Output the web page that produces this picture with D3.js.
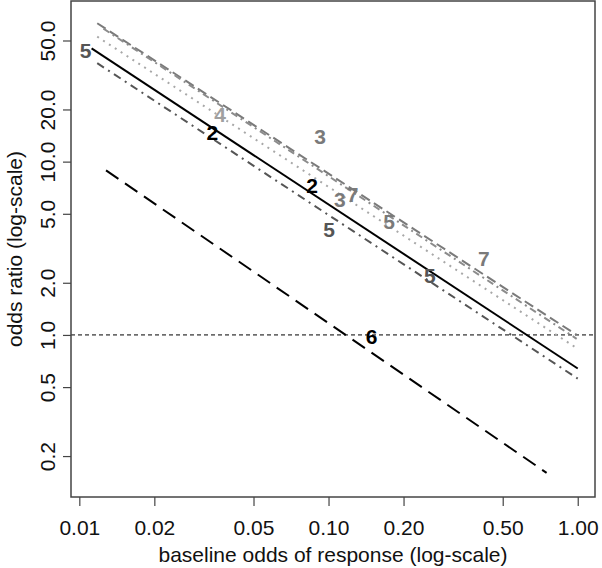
<!DOCTYPE html>
<html>
<head>
<meta charset="utf-8">
<script src="https://cdn.jsdelivr.net/npm/d3@7"></script>
<style>
  body { margin: 0; background: #fff; }
  text { font-family: "Liberation Sans", Arial, sans-serif; }
</style>
</head>
<body>
<svg id="chart" width="602" height="568"></svg>
<script>
// axis ticks
const xTicks = [0.01, 0.02, 0.05, 0.1, 0.2, 0.5, 1];
const xTickLabels = ['0.01', '0.02', '0.05', '0.10', '0.20', '0.50', '1.00'];
const yTicks = [0.2, 0.5, 1, 2, 5, 10, 20, 50];
const yTickLabels = ['0.2', '0.5', '1.0', '2.0', '5.0', '10.0', '20.0', '50.0'];

// lines: [baseline odds, odds ratio] at both ends
const line7 = [[0.0118, 62.9], [0.99, 1.0]];
const line3 = [[0.0125, 58.5], [0.99, 0.95]];
const line4 = [[0.0118, 52.6], [0.99, 0.84]];
const line2 = [[0.0112, 45.0], [1.0, 0.64]];
const line5 = [[0.0118, 37.0], [1.0, 0.56]];
const line6 = [[0.0128, 8.9], [0.75, 0.16]];

// number labels written on the plot
const labelText = ['5', '2', '4', '3', '2', '3', '7', '5', '5', '5', '7', '6'];
const labelX = [0.0106, 0.0342, 0.0367, 0.0925, 0.0859, 0.111, 0.125, 0.1005, 0.175, 0.255, 0.42, 0.149];
const labelY = [44.1, 14.7, 18.8, 13.9, 7.24, 6.09, 6.43, 4.04, 4.49, 2.19, 2.75, 0.974];
const labelColor = ['#555', '#000', '#a0a0a0', '#7a7a7a', '#000', '#7a7a7a', '#7a7a7a', '#555', '#7a7a7a', '#555', '#7a7a7a', '#000'];

const svg = d3.select('#chart');
const mLeft = 71, mRight = 595, mTop = 1, mBottom = 497;
const fontSize = 21;

const x = d3.scaleLog().domain([0.00926, 1.173]).range([mLeft, mRight]);
const y = d3.scaleLog().domain([0.1161, 84.5]).range([mBottom, mTop]);

// reference line at OR = 1
svg.append('line')
  .attr('x1', mLeft).attr('x2', mRight)
  .attr('y1', y(1)).attr('y2', y(1))
  .attr('stroke', '#000').attr('stroke-width', 1)
  .attr('stroke-dasharray', '4 3');

const series = [
  { pts: line7, color: '#7a7a7a', dash: '10 5' },
  { pts: line3, color: '#8c8c8c', dash: '7 4 2 4' },
  { pts: line4, color: '#a8a8a8', dash: '2 5' },
  { pts: line2, color: '#000', dash: null },
  { pts: line5, color: '#555', dash: '8 5 2 5' },
  { pts: line6, color: '#000', dash: '15 8' },
];

const lineGen = d3.line().x((d) => x(d[0])).y((d) => y(d[1]));

svg.append('g')
  .selectAll('path')
  .data(series)
  .enter()
  .append('path')
  .attr('d', (d) => lineGen(d.pts))
  .attr('fill', 'none')
  .attr('stroke', (d) => d.color)
  .attr('stroke-width', 2)
  .attr('stroke-dasharray', (d) => d.dash);

// labels
svg.append('g')
  .selectAll('text')
  .data(labelText)
  .enter()
  .append('text')
  .attr('x', (d, i) => x(labelX[i]))
  .attr('y', (d, i) => y(labelY[i]))
  .attr('dy', '0.36em')
  .attr('text-anchor', 'middle')
  .attr('font-size', fontSize)
  .attr('font-weight', 'bold')
  .attr('fill', (d, i) => labelColor[i])
  .text((d) => d);

// box
svg.append('rect')
  .attr('x', mLeft).attr('y', mTop)
  .attr('width', mRight - mLeft).attr('height', mBottom - mTop)
  .attr('fill', 'none')
  .attr('stroke', '#444')
  .attr('stroke-width', 1.5);

// axes
const xAxis = d3.axisBottom(x)
  .tickValues(xTicks)
  .tickFormat((d, i) => xTickLabels[i])
  .tickSize(9);
const gx = svg.append('g').attr('transform', `translate(0,${mBottom})`).call(xAxis);
gx.select('.domain').remove();
gx.selectAll('.tick text').attr('y', 38).attr('dy', 0);

const yAxis = d3.axisLeft(y)
  .tickValues(yTicks)
  .tickFormat((d, i) => yTickLabels[i])
  .tickSize(8);
const gy = svg.append('g').attr('transform', `translate(${mLeft},0)`).call(yAxis);
gy.select('.domain').remove();
gy.selectAll('.tick text')
  .attr('transform', 'rotate(-90)')
  .attr('x', 0)
  .attr('y', -16)
  .attr('dy', 0)
  .attr('text-anchor', 'middle');

[gx, gy].forEach((g) => {
  g.selectAll('.tick line').attr('stroke', '#444').attr('stroke-width', 1.2);
  g.selectAll('.tick text')
    .attr('font-size', fontSize)
    .attr('fill', '#111')
    .style('font-family', '"Liberation Sans", Arial, sans-serif');
});

// axis titles
svg.append('text')
  .attr('x', (mLeft + mRight) / 2)
  .attr('y', 562)
  .attr('text-anchor', 'middle')
  .attr('font-size', fontSize)
  .attr('fill', '#111')
  .text('baseline odds of response (log-scale)');

svg.append('text')
  .attr('transform', `translate(22,${(mTop + mBottom) / 2}) rotate(-90)`)
  .attr('text-anchor', 'middle')
  .attr('font-size', fontSize)
  .attr('fill', '#111')
  .text('odds ratio (log-scale)');
</script>
</body>
</html>
